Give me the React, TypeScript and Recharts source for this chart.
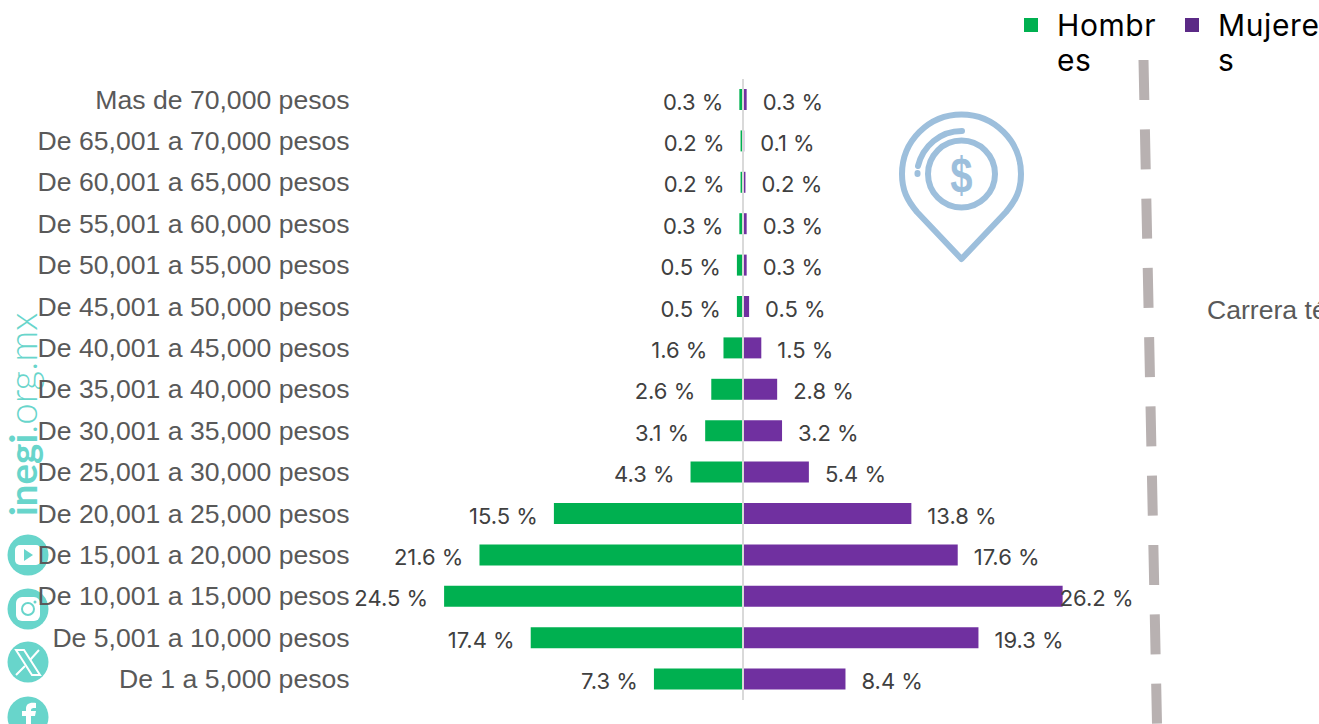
import { BarChart, Bar, XAxis, YAxis, ReferenceLine, LabelList } from 'recharts';

const categories = [
  'Mas de 70,000 pesos',
  'De 65,001 a 70,000 pesos',
  'De 60,001 a 65,000 pesos',
  'De 55,001 a 60,000 pesos',
  'De 50,001 a 55,000 pesos',
  'De 45,001 a 50,000 pesos',
  'De 40,001 a 45,000 pesos',
  'De 35,001 a 40,000 pesos',
  'De 30,001 a 35,000 pesos',
  'De 25,001 a 30,000 pesos',
  'De 20,001 a 25,000 pesos',
  'De 15,001 a 20,000 pesos',
  'De 10,001 a 15,000 pesos',
  'De 5,001 a 10,000 pesos',
  'De 1 a 5,000 pesos',
];
const hombres = [0.3, 0.2, 0.2, 0.3, 0.5, 0.5, 1.6, 2.6, 3.1, 4.3, 15.5, 21.6, 24.5, 17.4, 7.3];
const mujeres = [0.3, 0.1, 0.2, 0.3, 0.3, 0.5, 1.5, 2.8, 3.2, 5.4, 13.8, 17.6, 26.2, 19.3, 8.4];

const GREEN = '#00b050';
const PURPLE = '#7030a0';
const TEAL = '#68d5cb';
const PIN = '#9dbfdc';

const legendItems = [
  { lines: ['Hombr', 'es'], color: GREEN, left: 1024 },
  { lines: ['Mujere', 's'], color: '#5b2a86', left: 1185 },
];

const data = categories.map((name, i) => ({
  name,
  hombres: -hombres[i],
  mujeres: mujeres[i],
}));

const renderLabel = (props: any) => {
  const { x, y, width, height, value } = props;
  const left = Math.min(x, x + width);
  const right = Math.max(x, x + width);
  const v = Math.abs(value);
  const text = `${v} %`;
  const common = {
    y: y + height / 2 + 2,
    dominantBaseline: 'central' as const,
    fontFamily: 'Inter',
    fontSize: 22,
    fill: '#404040',
  };
  if (value < 0) {
    return <text {...common} x={left - 16} textAnchor="end">{text}</text>;
  }
  // the largest label sits on the end of its bar in the original
  return <text {...common} x={v > 26 ? right - 3 : right + 16} textAnchor="start">{text}</text>;
};

const Backdrop = () => (
  <svg width={1319} height={724} style={{ position: 'absolute', left: 0, top: 0 }}>
    {/* dashed divider */}
    <line x1={1143.5} y1={60} x2={1157} y2={724} stroke="#b8b1b1" strokeWidth={10} strokeDasharray="40 29.3" />
    <text x={1207} y={319} fontFamily="Liberation Sans" fontSize={26.6} fill="#595959">Carrera té</text>

    {/* pin icon */}
    <g fill="none" stroke={PIN} strokeWidth={6} strokeLinecap="round" strokeLinejoin="round">
      <path d="M961.5 259 L917 212 C907 200 902 190 902 174 A59.5 59.5 0 0 1 1021 174 C1021 190 1016 200 1006 212 Z" />
      <circle cx={961.5} cy={174} r={33.5} />
      <path d="M918 166 C923 146 940 131 962 131" />
      <path d="M917.5 173 L917.5 174" />
    </g>
    <text
      transform="translate(961.5 192) scale(0.8 1)"
      textAnchor="middle"
      fontFamily="Liberation Sans"
      fontWeight={700}
      fontSize={50}
      fill={PIN}
    >
      $
    </text>

    {/* site name */}
    <text
      transform="translate(37 516) rotate(-90)"
      fontFamily="Lato"
      fontSize={38.5}
      fill={TEAL}
    >
      <tspan fontWeight={700}>inegi</tspan>
      <tspan fontWeight={300}>.org.mx</tspan>
    </text>

    {/* social icons */}
    <circle cx={28} cy={555} r={20.5} fill={TEAL} />
    <rect x={15} y={545} width={26} height={20} rx={5} fill="#fff" />
    <path d="M24 549 L33 555 L24 561 Z" fill={TEAL} />

    <circle cx={28} cy={609} r={20.5} fill={TEAL} />
    <rect x={16} y={597} width={24} height={24} rx={6} fill="#fff" />
    <circle cx={28} cy={609} r={6} fill="none" stroke={TEAL} strokeWidth={2} />
    <circle cx={35} cy={602} r={1.5} fill={TEAL} />

    <circle cx={28} cy={662} r={20.5} fill={TEAL} />
    <path d="M16 650 L24 650 L40 675 L32 675 Z" fill="none" stroke="#fff" strokeWidth={2} />
    <path d="M39 650 L30 660 M25 666 L16 675" stroke="#fff" strokeWidth={2} />

    <circle cx={28} cy={717} r={20.5} fill={TEAL} />
    <path d="M26 724 L26 716 L22 716 L22 711 L26 711 L26 709 C26 704 29 702 36 703 L36 708 C32 708 31 708 31 711 L36 711 L35 716 L31 716 L31 724 Z" fill="#fff" />
  </svg>
);

export default function App() {
  return (
    <div style={{ position: 'absolute', left: 0, top: 0, width: 1319, height: 724, overflow: 'hidden', background: '#fff' }}>
      <Backdrop />
      <div style={{ position: 'absolute', left: 0, top: 0 }}>
        <BarChart
          width={1319}
          height={724}
          data={data}
          layout="vertical"
          stackOffset="sign"
          margin={{ top: 79, right: 185.6, bottom: 24, left: 0 }}
        >
          <XAxis type="number" domain={[-32, 32]} hide />
          <YAxis
            type="category"
            dataKey="name"
            width={352.6}
            interval={0}
            axisLine={false}
            tickLine={false}
            tick={{ fontFamily: 'Liberation Sans', fontSize: 26.6, fill: '#595959', dx: 5, dy: -0.5 }}
          />
          <Bar dataKey="hombres" stackId="a" fill={GREEN} barSize={21} isAnimationActive={false}>
            <LabelList dataKey="hombres" content={renderLabel} />
          </Bar>
          <Bar dataKey="mujeres" stackId="a" fill={PURPLE} barSize={21} isAnimationActive={false}>
            <LabelList dataKey="mujeres" content={renderLabel} />
          </Bar>
          <ReferenceLine x={0} stroke="#d9d9d9" strokeWidth={2} />
        </BarChart>
      </div>
      {legendItems.map((item) => (
        <div key={item.left} style={{ position: 'absolute', left: item.left, top: 18 }}>
          <div style={{ width: 14, height: 14, background: item.color }} />
          <div
            style={{
              position: 'absolute',
              left: 33,
              top: -10,
              fontFamily: 'Inter',
              fontSize: 30,
              letterSpacing: 0.6,
              lineHeight: '35px',
              color: '#000',
            }}
          >
            {item.lines.map((line) => (
              <div key={line}>{line}</div>
            ))}
          </div>
        </div>
      ))}
    </div>
  );
}
